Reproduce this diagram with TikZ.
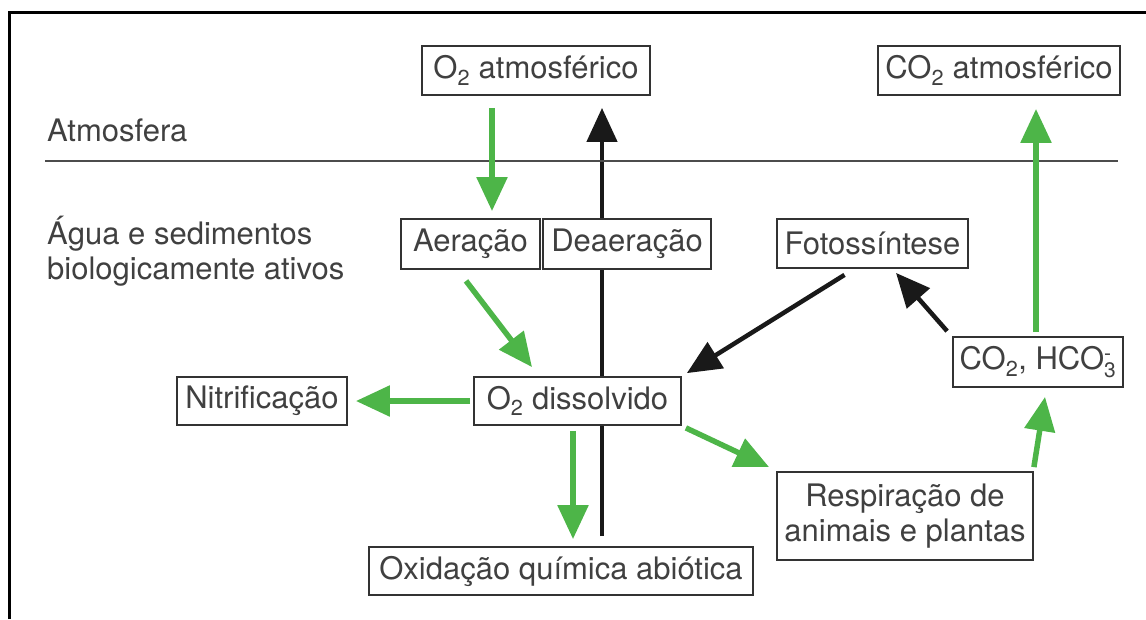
\documentclass[tikz,border=0pt]{standalone}
\usepackage{fontspec}
\setmainfont{TeX Gyre Heros}
\usetikzlibrary{arrows.meta,backgrounds}
\definecolor{agreen}{HTML}{4DB548}
\definecolor{txtgray}{HTML}{404040}
\definecolor{boxgray}{HTML}{333333}
\newcommand{\subsup}[2]{$^{\hbox{\fontsize{21}{21}\selectfont #2}}_{\hbox{\fontsize{21}{21}\selectfont #1}}$}
\begin{document}
\begin{tikzpicture}[x=1pt,y=-1pt,
  every node/.style={text=txtgray,font=\fontsize{31}{35}\selectfont,inner sep=0pt},
  box/.style={draw=boxgray,line width=1.8pt,fill=white,minimum height=49,align=center},
  garrow/.style={draw=agreen,line width=5.5pt,-{Triangle[length=34pt,width=30pt]}},
  karrow/.style={draw=black!90,line width=4.5pt,-{Triangle[length=34pt,width=30pt]}}]
\useasboundingbox (0,0) rectangle (1146,619);
% frame
\draw[line width=3pt,black] (9,619) -- (9,12) -- (1146,12);
% separator
\draw[line width=1.6pt,black!70] (45,161) -- (1118,161);
% labels
\node[anchor=west] (atm) at (47,130) {Atmosfera};
\node[anchor=west,align=left] (agua) at (47,251) {Água e sedimentos\\biologicamente ativos};
% boxes
\node[box,minimum width=228] (o2atm) at (536,70.5) {O\textsubscript{2} atmosférico};
\node[box,minimum width=242] (co2atm) at (999,70.5) {CO\textsubscript{2} atmosférico};
\node[box,minimum width=139,minimum height=50] (aer) at (470.5,244) {Aeração};
\node[box,minimum width=168,minimum height=50] (dea) at (627,244) {Deaeração};
\node[box,minimum width=191] (fot) at (872.5,243.5) {Fotossíntese};
\node[box,minimum width=170,minimum height=50] (co2h) at (1038,362) {CO\textsubscript{2}, HCO\subsup{3}{-}};
\node[box,minimum width=170,minimum height=48] (nit) at (262,401) {Nitrificação};
\node[box,minimum width=207,minimum height=48] (o2d) at (577.5,401) {O\textsubscript{2} dissolvido};
\node[box,minimum width=256,minimum height=88] (resp) at (905,516) {Respiração de\\animais e plantas};
\node[box,minimum width=384,minimum height=48] (ox) at (561,571) {Oxidação química abiótica};
% black vertical (behind boxes)
\begin{pgfonlayer}{background}
\draw[karrow] ([shift={(41,-10)}]ox.north) -- ([shift={(66,12)}]o2atm.south);
\end{pgfonlayer}
% arrows
\draw[garrow] ([shift={(-44,12)}]o2atm.south) -- ([shift={(21.5,-7)}]aer.north);
\draw[garrow] ([shift={(-4.5,11)}]aer.south) -- ([shift={(-45.5,-9)}]o2d.north);
\draw[karrow] ([shift={(-28,6)}]fot.south) -- ([shift={(5,-3)}]o2d.north east);
\draw[karrow] ([shift={(-5,-5)}]co2h.north west) -- ([shift={(23.5,4)}]fot.south);
\draw[garrow] ([shift={(-2,-4)}]co2h.north) -- ([shift={(37,13)}]co2atm.south);
\draw[garrow] ([shift={(-3,0)}]o2d.west) -- ([shift={(8,0)}]nit.east);
\draw[garrow] ([shift={(-4.5,5)}]o2d.south) -- ([shift={(12,-7)}]ox.north);
\draw[garrow] ([shift={(4,2)}]o2d.south east) -- ([shift={(-7,-4)}]resp.north west);
\draw[garrow] ([shift={(0,-4)}]resp.north east) -- ([shift={(7,9)}]co2h.south);
\end{tikzpicture}
\end{document}
